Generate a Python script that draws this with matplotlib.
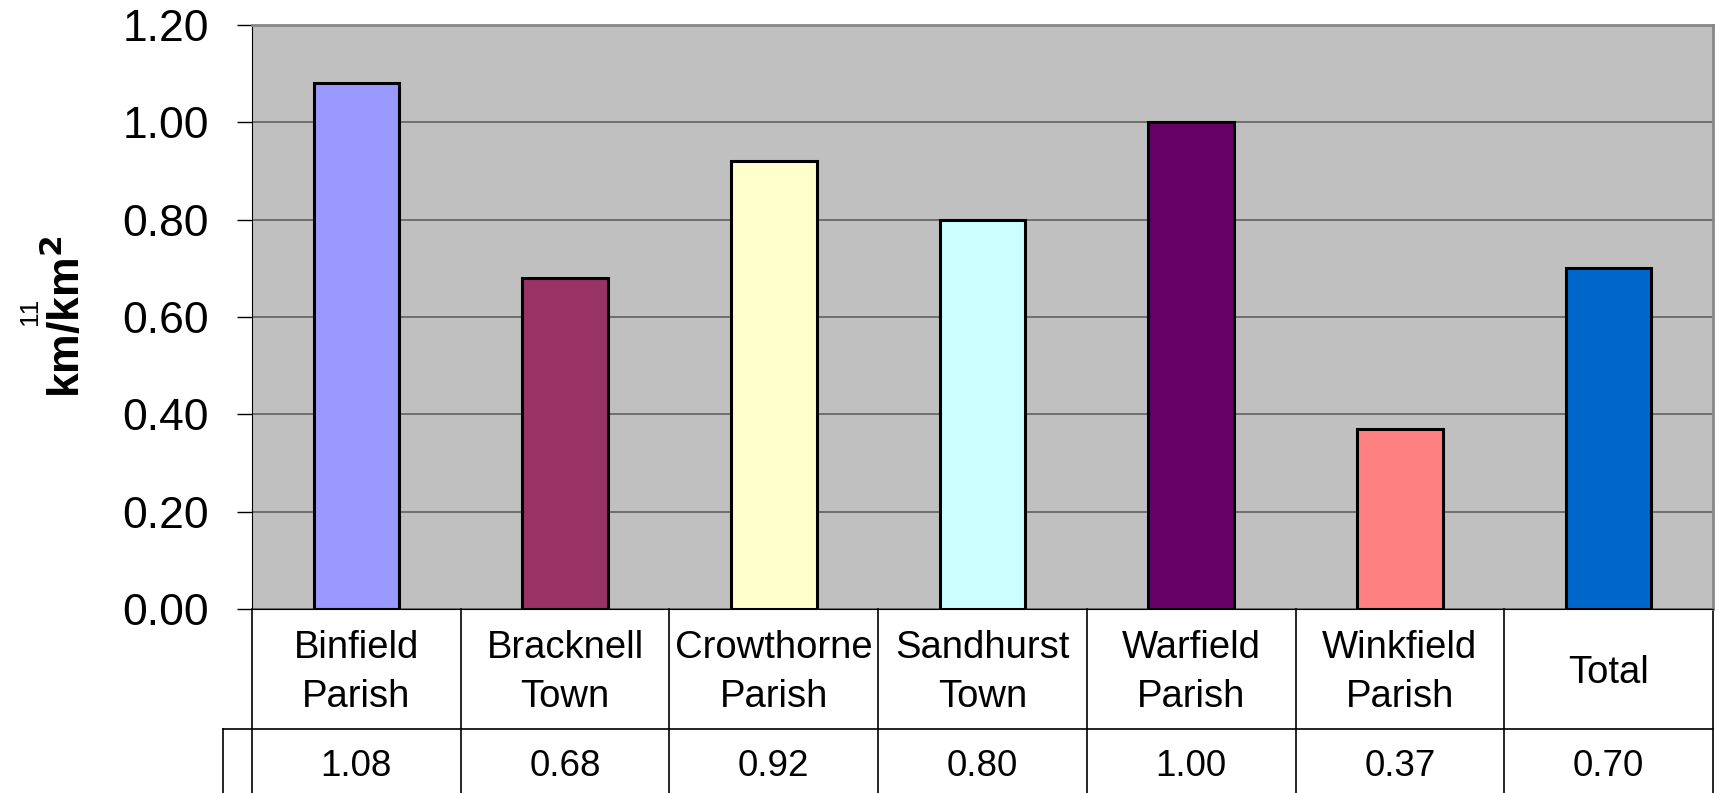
#!/usr/bin/env python3
import matplotlib
matplotlib.use('Agg')
import matplotlib.pyplot as plt
from matplotlib.transforms import blended_transform_factory

plt.rcParams['font.family'] = ['Liberation Sans', 'DejaVu Sans']

categories = ['Binfield\nParish', 'Bracknell\nTown', 'Crowthorne\nParish',
              'Sandhurst\nTown', 'Warfield\nParish', 'Winkfield\nParish', 'Total']
values = [1.08, 0.68, 0.92, 0.80, 1.00, 0.37, 0.70]
value_labels = ['1.08', '0.68', '0.92', '0.80', '1.00', '0.37', '0.70']
colors = ['#9999FF', '#993366', '#FFFFCC', '#CCFFFF', '#660066', '#FF8080', '#0066CC']
yticks = [0.0, 0.2, 0.4, 0.6, 0.8, 1.0, 1.2]

W, H = 1717, 793
fig = plt.figure(figsize=(W / 100, H / 100), dpi=100)
ax = fig.add_axes([252 / W, 1 - 609 / H, (1713 - 252) / W, (609 - 25) / H])
ax.set_facecolor('#C0C0C0')

x = list(range(len(categories)))
ax.bar(x, values, width=0.41, color=colors, edgecolor='black', linewidth=2.2, zorder=3)

ax.set_xlim(-0.5, len(categories) - 0.5)
ax.set_ylim(0, 1.2)
ax.set_yticks(yticks)
ax.set_yticklabels([f'{v:.2f}' for v in yticks], fontsize=32)
ax.tick_params(axis='y', length=11, width=1, pad=20, color='black')
ax.set_xticks([])
ax.grid(axis='y', color='#606060', linewidth=1.2, zorder=1)
for s in ['top', 'right']:
    ax.spines[s].set_color('#888888')
    ax.spines[s].set_linewidth(2)
ax.spines['left'].set_color('black')
ax.spines['bottom'].set_color('black')

ax.set_ylabel('km/km$^\\mathbf{2}$', fontsize=32, fontweight='bold', labelpad=24)
ax.text(-0.152, 0.51, '11', transform=ax.transAxes, rotation=90, fontsize=19,
        ha='center', va='center')

# data table under the axis
ah = 609 - 25
row1 = -(729 - 609) / ah
row2 = -(820 - 609) / ah
trans = blended_transform_factory(ax.transData, ax.transAxes)
n = len(categories)
lkw = dict(color='black', linewidth=1.2, clip_on=False, transform=trans)
for i in range(n + 1):
    ax.plot([i - 0.5, i - 0.5], [0, row2], **lkw)
left_ext = -0.5 - 29 / ((1713 - 252) / n)
ax.plot([left_ext, n - 0.5], [row1, row1], **lkw)
ax.plot([left_ext, left_ext], [row1, row2], **lkw)
for i, (c, v) in enumerate(zip(categories, value_labels)):
    ax.text(i, row1 / 2 - 0.006, c, transform=trans, ha='center', va='center',
            fontsize=27.5, linespacing=1.45)
    ax.text(i, -(767 - 609) / ah, v, transform=trans, ha='center', va='center',
            fontsize=26.5)

fig.savefig('out.png', dpi=100)
